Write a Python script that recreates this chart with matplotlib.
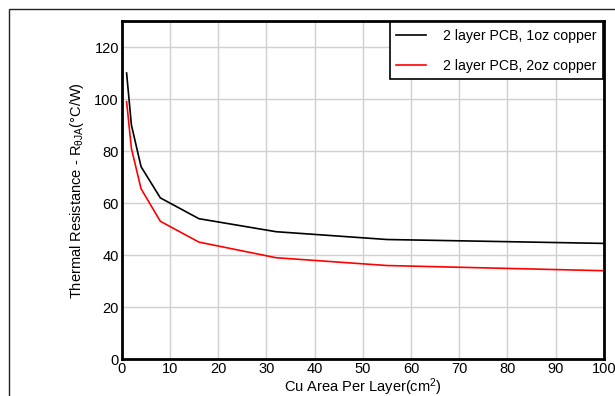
import matplotlib
matplotlib.use('Agg')
import matplotlib.pyplot as plt
from matplotlib.patches import Rectangle

plt.rcParams['font.family'] = ['Liberation Sans', 'DejaVu Sans']
plt.rcParams['mathtext.fontset'] = 'custom'
plt.rcParams['mathtext.rm'] = 'Liberation Sans'
plt.rcParams['mathtext.it'] = 'Liberation Sans'

area = [1, 2, 4, 8, 16, 32, 55, 100]
r_1oz = [110, 90, 74, 62, 54, 49, 46, 44.5]
r_2oz = [99, 81, 65.5, 53, 45, 39, 36, 34]
labels = ['2 layer PCB, 1oz copper', '2 layer PCB, 2oz copper']

fig = plt.figure(figsize=(6.15, 3.96), dpi=100)
ax = fig.add_axes([0.198, 0.093, 0.784, 0.854])

# outer frame, cut off on right and bottom like the original
fig.patches.append(Rectangle((9 / 615, -0.1), 1.2, 0.1 + (396 - 9) / 396,
                             transform=fig.transFigure, fill=False,
                             edgecolor='#222222', linewidth=1))

ax.plot(area, r_1oz, color='black', lw=1.2, label=labels[0])
ax.plot(area, r_2oz, color='red', lw=1.2, label=labels[1])

ax.set_xlim(0, 100)
ax.set_ylim(0, 130)
ax.set_xticks(range(0, 101, 10))
ax.set_yticks(range(0, 121, 20))
ax.grid(True, color='#d0d0d0', lw=1)
ax.set_axisbelow(True)
ax.tick_params(length=0, labelsize=10.5, pad=2)
for s in ax.spines.values():
    s.set_linewidth(2)

ax.set_xlabel('Cu Area Per Layer(cm$^2$)', fontsize=10.5, labelpad=0)
ax.set_ylabel(r'Thermal Resistance - R$_{\mathrm{\theta JA}}$(°C/W)', fontsize=10.5, labelpad=6)

leg = ax.legend(loc='upper right', fontsize=10.2, fancybox=False, framealpha=1,
                edgecolor='black', borderaxespad=0.1, handlelength=2.1,
                handletextpad=1.2, labelspacing=1.15, borderpad=0.45)
leg.get_frame().set_linewidth(1.2)

fig.savefig('out.png', dpi=100)
